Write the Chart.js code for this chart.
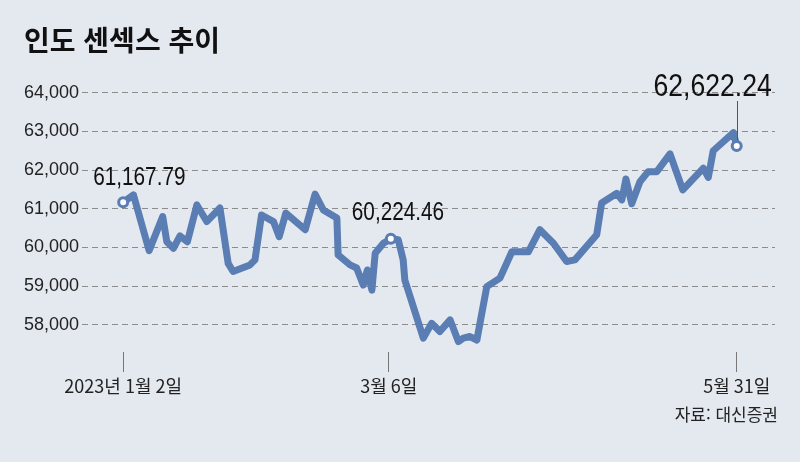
<!DOCTYPE html>
<html lang="ko">
<head>
<meta charset="utf-8">
<script src="https://cdn.jsdelivr.net/npm/chart.js@4"></script>
<style>
  html, body { margin: 0; padding: 0; background: #e4e9f0; }
  .wrap { position: relative; width: 800px; height: 462px; overflow: hidden; }
  .title { position: absolute; left: 24px; top: 25px; font: 600 28px/1 'Noto Sans CJK KR', sans-serif; color: #111; }
  .source { position: absolute; right: 22px; top: 405px; font: 17px/1 'Noto Sans CJK KR', sans-serif; color: #222; }
  canvas { position: absolute; left: 0; top: 0; }
</style>
</head>
<body>
<div class="wrap">
  <canvas id="chart" width="800" height="462"></canvas>
  <div class="title">인도 센섹스 추이</div>
  <div class="source">자료: 대신증권</div>
</div>
<script>
// days after 2023-01-02
const dayIndex = [0, 2.5, 6.3, 9.6, 10.6, 12.2, 13.8, 15.6, 17.9, 20.3, 23.5, 25.5, 26.7, 30.8, 32.0, 33.6,
    36.5, 37.9, 39.5, 44.2, 46.6, 48.6, 51.9, 52.2, 55.1, 56.7, 57.5, 58.3, 59.3, 60.4, 61.2, 63.2, 65.0,
    66.8, 68.0, 68.4, 72.9, 74.9, 76.9, 79.4, 81.4, 82.6, 84.2, 85.9, 88.3, 91.5, 94.4, 98.4, 101.2, 104.5,
    107.7, 109.7, 115.0, 116.2, 119.9, 121.1, 122.1, 123.5, 125.5, 127.5, 129.6, 132.8, 135.9, 140.9, 142.1,
    143.3, 145.4, 148.2, 149]
const sensex = [61167.79, 61360, 59920, 60800, 60150, 59980, 60300, 60150, 61100, 60670, 61020, 59590, 59380,
    59550, 59680, 60840, 60670, 60280, 60890, 60460, 61380, 60970, 60760, 59810, 59550, 59470, 59250, 59030,
    59420, 58900, 59850, 60110, 60224.46, 60200, 59680, 59160, 57660, 58040, 57830, 58130, 57570, 57660,
    57700, 57610, 58990, 59210, 59890, 59890, 60460, 60110, 59640, 59680, 60330, 61150, 61400, 61230, 61770,
    61130, 61700, 61960, 61960, 62420, 61490, 62050, 61810, 62500, 62700, 62969, 62622.24]
const marked = [0, 32, 68]

const yTicks = [58000, 59000, 60000, 61000, 62000, 63000, 64000]
const xTickDays = [0, 64.5, 149]
const xTickLabels = ['2023년 1월 2일', '3월 6일', '5월 31일']

const lineColor = '#5a7db3'
const fmt = v => v.toLocaleString('en-US', {minimumFractionDigits: 2, maximumFractionDigits: 2})

function drawNarrow(ctx, text, x, y, size, align) {
    ctx.save()
    ctx.translate(x, y)
    ctx.scale(0.83, 1)
    ctx.font = size + 'px "Liberation Sans", Arial, sans-serif'
    ctx.textAlign = align
    ctx.textBaseline = 'alphabetic'
    ctx.fillText(text, 0, 0)
    ctx.restore()
}

const labelPlugin = {
    id: 'pointLabels',
    afterDatasetsDraw(chart) {
        const pts = chart.getDatasetMeta(0).data
        const ctx = chart.ctx
        ctx.save()
        ctx.fillStyle = '#111'
        let p = pts[marked[0]]
        drawNarrow(ctx, fmt(sensex[marked[0]]), p.x - 30, p.y - 17, 25, 'left')
        p = pts[marked[1]]
        drawNarrow(ctx, fmt(sensex[marked[1]]), p.x - 39, p.y - 19, 25, 'left')
        p = pts[marked[2]]
        const lx = Math.round(p.x) + 0.5
        ctx.strokeStyle = '#555'
        ctx.lineWidth = 1
        ctx.beginPath()
        ctx.moveTo(lx, p.y - 45)
        ctx.lineTo(lx, p.y - 6)
        ctx.stroke()
        drawNarrow(ctx, fmt(sensex[marked[2]]), p.x + 35, p.y - 50, 32, 'right')
        ctx.restore()
    }
}

const ctx = document.getElementById('chart').getContext('2d')
const chart = new Chart(ctx, {
    type: 'line',
    data: {
        datasets: [{
            data: dayIndex.map((d, i) => ({x: d, y: sensex[i]})),
            borderColor: lineColor,
            borderWidth: 7,
            borderJoinStyle: 'round',
            borderCapStyle: 'round',
            tension: 0,
            pointRadius: c => marked.includes(c.dataIndex) ? 4.5 : 0,
            pointHoverRadius: c => marked.includes(c.dataIndex) ? 4.5 : 0,
            pointBackgroundColor: '#fff',
            pointBorderColor: lineColor,
            pointBorderWidth: 3,
            clip: false
        }]
    },
    options: {
        responsive: false,
        animation: false,
        layout: {padding: {top: 92.7, right: 25, left: 0, bottom: 0}},
        plugins: {legend: {display: false}, tooltip: {enabled: false}},
        scales: {
            x: {
                type: 'linear',
                min: -10,
                max: 158.3,
                afterBuildTicks: s => { s.ticks = xTickDays.map(v => ({value: v})) },
                afterFit: s => { s.height = 110 },
                ticks: {
                    autoSkip: false,
                    maxRotation: 0,
                    padding: 3,
                    color: '#222',
                    font: {family: "'Noto Sans CJK KR', sans-serif", size: 18},
                    callback: (v, i) => xTickLabels[i]
                },
                grid: {drawOnChartArea: false, drawTicks: true, tickLength: 20, color: '#777', lineWidth: 1},
                border: {display: false}
            },
            y: {
                min: 57300,
                max: 64000,
                afterBuildTicks: s => { s.ticks = yTicks.map(v => ({value: v})) },
                afterFit: s => { s.width = 82 },
                ticks: {
                    padding: 3,
                    color: '#222',
                    font: {family: "'Liberation Sans', Arial, sans-serif", size: 18},
                    callback: v => v.toLocaleString('en-US')
                },
                grid: {drawTicks: false, color: '#8c8c8c', lineWidth: 1},
                border: {display: false, dash: [6, 4]}
            }
        }
    },
    plugins: [labelPlugin]
})
</script>
</body>
</html>
